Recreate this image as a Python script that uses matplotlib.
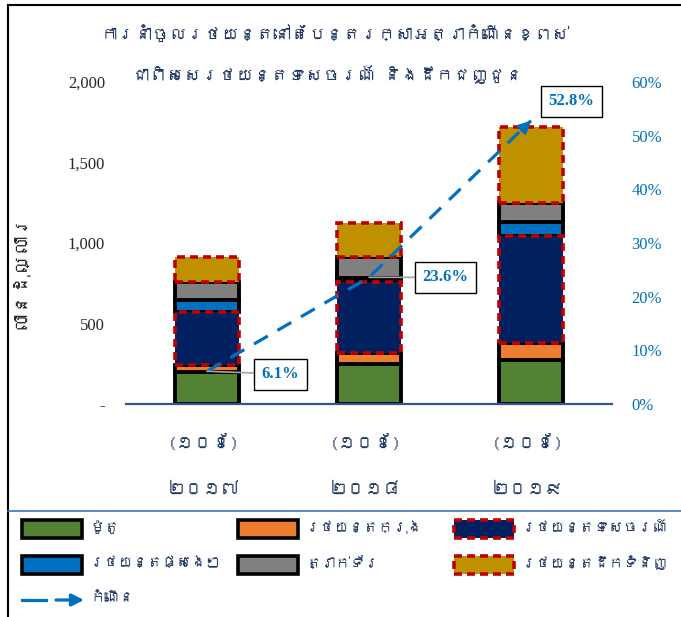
import matplotlib
matplotlib.use("Agg")
import numpy as np
import matplotlib.pyplot as plt
import matplotlib.patches as mpatches
import matplotlib.transforms as mtransforms
from matplotlib import font_manager
from matplotlib.ft2font import FT2Font
from matplotlib.lines import Line2D

# ==== Data ====
years = ["២០១៧", "២០១៨", "២០១៩"]
period = "(១០ខែ)"
title_lines = ["ការនាំចូលរថយន្តនៅតែបន្តរក្សាអត្រាកំណើនខ្ពស់",
               "ជាពិសេសរថយន្តទេសចរណ៍ និងដឹកជញ្ជូន"]
ylabel = "លានដុល្លារ"

series_names = ["ម៉ូតូ", "រថយន្តក្រុង", "រថយន្តទេសចរណ៍",
                "រថយន្តផ្សេងៗ", "ត្រាក់ទ័រ", "រថយន្តដឹកទំនិញ"]
motorbike = [200, 248, 273]
bus = [42, 71, 108]
tourist = [331, 441, 664]
other = [72, 25, 83]
tractor = [114, 130, 118]
truck = [151, 211, 476]
growth_name = "កំណើន"
growth = [0.061, 0.236, 0.528]

left_ticks = [0, 500, 1000, 1500, 2000]
left_ticklabels = ["-", "500", "1,000", "1,500", "2,000"]
right_ticks = [0, 0.1, 0.2, 0.3, 0.4, 0.5, 0.6]
right_ticklabels = ["0%", "10%", "20%", "30%", "40%", "50%", "60%"]

colors = ["#548235", "#ED7D31", "#002060", "#0070C0", "#808080", "#BF9000"]
dashed_series = {2, 5}
RED = "#C00000"
LINE_BLUE = "#0070C0"
NAVY = "#1F3864"
DASH = (0, (2.2, 1.4))

W, H = 681, 617


# look for any installed family that can draw Khmer
def find_khmer_families():
    found = []
    for f in font_manager.fontManager.ttflist:
        if f.name in found:
            continue
        try:
            cmap = FT2Font(f.fname).get_charmap()
        except Exception:
            continue
        if 0x1780 in cmap and 0x17E0 in cmap:
            found.append(f.name)
    return found


khmer = find_khmer_families()
KFAM = khmer[:1] + ["DejaVu Sans"]
plt.rcParams["font.family"] = KFAM


def fx(px):
    return px / W


def fy(py):
    return 1 - py / H


fig = plt.figure(figsize=(W / 100, H / 100), dpi=100)
ax = fig.add_axes([fx(126), fy(404), fx(486), 322 / H])

x = np.arange(len(years))
bottom = np.zeros(len(years))
all_series = [motorbike, bus, tourist, other, tractor, truck]
for i, (vals, col) in enumerate(zip(all_series, colors)):
    if i in dashed_series:
        ax.bar(x, vals, 0.4, bottom=bottom, color=col, edgecolor=RED,
               linewidth=2.6, linestyle=DASH, zorder=3)
    else:
        ax.bar(x, vals, 0.4, bottom=bottom, color=col, edgecolor="black",
               linewidth=2.8, zorder=2)
    bottom += np.array(vals)

ax.set_xlim(-0.5, 2.5)
ax.set_ylim(0, 2000)
ax.set_yticks(left_ticks)
ax.set_yticklabels(left_ticklabels, family="Liberation Serif", fontsize=12,
                   color="#262626")
ax.set_xticks([])
ax.tick_params(axis="y", length=0, pad=15)
for s in ["top", "left", "right"]:
    ax.spines[s].set_visible(False)
ax.spines["bottom"].set_color("#2F5597")
ax.spines["bottom"].set_linewidth(1.6)

# category labels (two lines each)
blend = mtransforms.blended_transform_factory(ax.transData, ax.transAxes)
for i, yr in enumerate(years):
    ax.text(x[i] - 0.02, -0.12, period, transform=blend, ha="center", va="center",
            fontsize=13, color=NAVY)
    ax.text(x[i] - 0.02, -0.265, yr, transform=blend, ha="center", va="center",
            fontsize=13, color=NAVY)

# growth line on secondary axis
ax2 = ax.twinx()
ax2.set_ylim(0, 0.6)
ax2.set_yticks(right_ticks)
ax2.set_yticklabels(right_ticklabels, family="Liberation Serif", fontsize=12,
                    color=LINE_BLUE)
ax2.tick_params(axis="y", length=0, pad=14)
for s in ax2.spines.values():
    s.set_visible(False)

ax2.plot(x, growth, color=LINE_BLUE, lw=2.3, linestyle=(0, (5, 3.5)), zorder=5)
ax2.annotate("", xy=(x[-1], growth[-1]),
             xytext=(x[-1] - 0.06 * (x[-1] - x[-2]),
                     growth[-1] - 0.06 * (growth[-1] - growth[-2])),
             arrowprops=dict(arrowstyle="-|>", color=LINE_BLUE, lw=2,
                             mutation_scale=18, shrinkA=0, shrinkB=0),
             zorder=6)

offsets = [(53, -2), (55, 0), (29, 14)]
for i, g in enumerate(growth):
    ax2.annotate(f"{g * 100:.1f}%", xy=(x[i], g), xytext=offsets[i],
                 textcoords="offset points", ha="center", va="center",
                 fontsize=12, fontweight="bold", color=LINE_BLUE,
                 family="Liberation Serif",
                 bbox=dict(boxstyle="square,pad=0.45", fc="white", ec="black", lw=1),
                 arrowprops=(dict(arrowstyle="-", color="#A6A6A6", lw=1.2,
                                  shrinkA=0, shrinkB=0) if i < 2 else None),
                 zorder=7)

# titles
fig.text(fx(335), fy(33), title_lines[0], ha="center", va="center",
         fontsize=12.5, fontweight="bold", color=NAVY)
fig.text(fx(327), fy(75), title_lines[1], ha="center", va="center",
         fontsize=12.5, fontweight="bold", color=NAVY)
fig.text(fx(20), fy(270), ylabel, rotation=90, ha="center", va="center",
         fontsize=14, color="#262626")

# frame lines
fig.add_artist(Line2D([fx(8), fx(8)], [0, fy(5)], color="black", lw=1.5,
                      transform=fig.transFigure))
fig.add_artist(Line2D([fx(8), 1], [fy(5), fy(5)], color="black", lw=1.5,
                      transform=fig.transFigure))
fig.add_artist(Line2D([fx(8), 1], [fy(511), fy(511)], color="#4472C4", lw=1.2,
                      transform=fig.transFigure))

# legend (drawn by hand so the columns line up with the reference)
col_patch_x = [22, 238, 454]
col_text_x = [90, 306, 522]
row_y = [529, 565, 600]
legend_texts = []
for k, (name, col) in enumerate(zip(series_names, colors)):
    r, c = divmod(k, 3)
    if k in dashed_series:
        ec, ls = RED, DASH
    else:
        ec, ls = "black", "-"
    rect = mpatches.Rectangle((fx(col_patch_x[c]), fy(row_y[r] + 9)),
                              fx(60), 18 / H, transform=fig.transFigure,
                              facecolor=col, edgecolor=ec, linewidth=2.6,
                              linestyle=ls)
    fig.add_artist(rect)
    legend_texts.append(fig.text(fx(col_text_x[c]), fy(row_y[r] - 2), name,
                                 ha="left", va="center", fontsize=10.5,
                                 fontweight="bold", color=NAVY))

fig.add_artist(Line2D([fx(22), fx(46)], [fy(row_y[2])] * 2, color=LINE_BLUE,
                      lw=2.3, transform=fig.transFigure))
fig.add_artist(mpatches.FancyArrowPatch((fx(56), fy(row_y[2])), (fx(84), fy(row_y[2])),
                                        transform=fig.transFigure, arrowstyle="-|>",
                                        mutation_scale=18, color=LINE_BLUE, lw=2.3,
                                        shrinkA=0, shrinkB=0))
legend_texts.append(fig.text(fx(col_text_x[0]), fy(row_y[2] - 2), growth_name,
                             ha="left", va="center", fontsize=10.5,
                             fontweight="bold", color=NAVY))

# shrink legend text so the longest entry in each column still fits
renderer = fig.canvas.get_renderer()
limits = [col_patch_x[1] - 6, col_patch_x[2] - 6, W - 4]
scale = 1.0
for k, t in enumerate(legend_texts[:6]):
    bb = t.get_window_extent(renderer)
    room = limits[k % 3] - bb.x0
    if bb.width > room:
        scale = min(scale, room / bb.width)
for t in legend_texts:
    t.set_fontsize(t.get_fontsize() * scale)

fig.savefig("out.png", dpi=100)
